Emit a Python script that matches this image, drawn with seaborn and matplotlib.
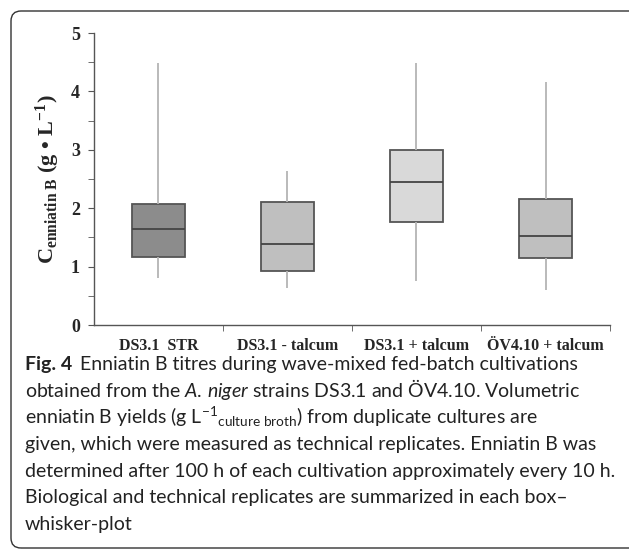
import numpy as np
import pandas as pd
import matplotlib
matplotlib.use("Agg")
import matplotlib.pyplot as plt
from matplotlib.patches import FancyBboxPatch
from matplotlib.ticker import MultipleLocator
import seaborn as sns

# five-number summary per strain/condition: min, Q1, median, Q3, max (g/L)
groups = ["DS3.1  STR", "DS3.1 - talcum", "DS3.1 + talcum", "ÖV4.10 + talcum"]
ds31_str = [0.80, 1.17, 1.65, 2.07, 4.49]
ds31_minus_talcum = [0.63, 0.92, 1.39, 2.10, 2.64]
ds31_plus_talcum = [0.76, 1.77, 2.45, 2.99, 4.49]
ov410_plus_talcum = [0.60, 1.15, 1.52, 2.16, 4.16]
box_colors = ["#8c8c8c", "#bfbfbf", "#d9d9d9", "#bfbfbf"]

df = pd.DataFrame({
    "group": np.repeat(groups, 5),
    "titre": ds31_str + ds31_minus_talcum + ds31_plus_talcum + ov410_plus_talcum,
})

sns.set_style("ticks")
plt.rcParams["mathtext.fontset"] = "custom"
plt.rcParams["mathtext.rm"] = "Lato"
plt.rcParams["mathtext.it"] = "Lato:italic"
plt.rcParams["mathtext.sf"] = "Lato"
plt.rcParams["mathtext.bf"] = "Liberation Serif:bold"

fig = plt.figure(figsize=(6.29, 5.5), dpi=100)
ax = fig.add_axes([0.149, 0.409, 0.821, 0.531])

sns.boxplot(data=df, x="group", y="titre", hue="group", order=groups,
            palette=box_colors, legend=False, whis=(0, 100), width=0.41,
            showcaps=False, linecolor="#555555", linewidth=1.3,
            whiskerprops=dict(color="#b4b4b4", linewidth=1.3),
            medianprops=dict(color="#444444", linewidth=1.3),
            ax=ax)

ax.set_xlim(-0.5, 3.5)
ax.set_ylim(0, 5)
ax.yaxis.set_major_locator(MultipleLocator(1))
ax.yaxis.set_minor_locator(MultipleLocator(0.5))
ax.set_xticks([0, 1, 2, 3])
ax.set_xticklabels(groups, fontfamily="Liberation Serif", fontweight="bold", fontsize=11.5)
ax.set_xticks([0.5, 1.5, 2.5, 3.5], minor=True)
ax.tick_params(axis="x", which="major", length=0, pad=9)
ax.tick_params(axis="x", which="minor", length=4, color="#555555")
ax.tick_params(axis="y", which="both", length=4, color="#555555", pad=6)
for lab in ax.get_yticklabels():
    lab.set_fontfamily("Liberation Serif")
    lab.set_fontweight("bold")
    lab.set_fontsize(13)
ax.set_xlabel("")
ax.set_ylabel(r"C$_{\mathbf{enniatin\ B}}$ (g • L$^{\mathbf{-1}}$)",
              fontfamily="Liberation Serif", fontweight="bold", fontsize=16, labelpad=6)
sns.despine(ax=ax)
for side in ["left", "bottom"]:
    ax.spines[side].set_color("#555555")
    ax.spines[side].set_linewidth(1.0)

# caption
cap_x = 25 / 629
cap_kw = dict(fontfamily="Lato", fontsize=14.0, color="#222222", va="baseline")
fig_lbl = fig.text(cap_x, 1 - 370 / 550, "Fig. 4", fontweight="bold", **cap_kw)
fig.canvas.draw()
bb = fig_lbl.get_window_extent()
fig.text((bb.x1 + 8) / fig.bbox.width, 1 - 370 / 550,
         "Enniatin B titres during wave-mixed fed-batch cultivations", **cap_kw)
caption_lines = [
    r"obtained from the $\mathit{A.\,niger}$ strains DS3.1 and ÖV4.10. Volumetric",
    r"enniatin B yields (g L$^{-1}$${}_{\mathsf{culture\ broth}}$) from duplicate cultures are",
    "given, which were measured as technical replicates. Enniatin B was",
    "determined after 100 h of each cultivation approximately every 10 h.",
    "Biological and technical replicates are summarized in each box–",
    "whisker-plot",
]
for i, line in enumerate(caption_lines):
    fig.text(cap_x, 1 - (370 + 26.7 * (i + 1)) / 550, line, **cap_kw)

frame = FancyBboxPatch((11, 2), 650, 537, boxstyle="round,pad=0,rounding_size=10",
                       transform=None, facecolor="none", edgecolor="#333333",
                       linewidth=1.0)
fig.patches.append(frame)

fig.savefig("out.png", dpi=100)
